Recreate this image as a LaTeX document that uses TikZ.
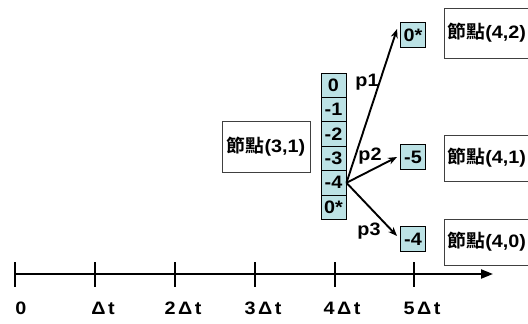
\documentclass[tikz,border=0pt]{standalone}
\usepackage{fontspec}
\setmainfont{Liberation Sans}[BoldFont={Liberation Sans Bold},FakeStretch=1.1]
\newfontfamily\cjkfont{Noto Sans CJK TC Black}[FakeStretch=1.05]
\usetikzlibrary{arrows.meta,calc}
\definecolor{cellfill}{RGB}{188,226,229}
\definecolor{boxline}{RGB}{64,64,64}
\tikzset{
  txt/.style={font=\fontsize{18}{20}\selectfont\bfseries, inner sep=0pt},
  cell/.style={draw=black, line width=0.9pt, fill=cellfill, minimum width=25pt, minimum height=24.4pt, inner sep=0pt, font=\fontsize{18}{20}\selectfont\bfseries},
  nbox/.style={draw=boxline, line width=0.9pt, fill=white, minimum height=50pt, inner ysep=0pt, font=\fontsize{18}{20}\selectfont\bfseries},
  arr/.style={line width=1.9pt, -{Stealth[length=9pt,width=7pt]}},
  axisline/.style={line width=2.2pt, -{Triangle[length=12pt,width=9pt]}},
  tickline/.style={line width=2.8pt},
}
\begin{document}
\begin{tikzpicture}[x=1pt,y=-1pt]
\useasboundingbox (0,0) rectangle (528,324);
% left node
\node[nbox, minimum width=88pt, minimum height=51pt, inner xsep=0pt] (n31) at (266,146.5) {{\cjkfont 節點}(3,1)};
% stack
\node[cell] (s0) at (333.5,85.2) {0};
\node[cell] (s1) at (333.5,109.6) {-1};
\node[cell] (s2) at (333.5,134.0) {-2};
\node[cell] (s3) at (333.5,158.4) {-3};
\node[cell] (s4) at (333.5,182.8) {-4};
\node[cell] (s5) at (333.5,207.2) {0*};
% targets
\node[cell] (t2) at (413,35) {0*};
\node[cell] (t1) at (413,157) {-5};
\node[cell] (t0) at (413,239) {-4};
% right nodes
\node[nbox, anchor=west, inner xsep=3pt, text width=94pt, align=left] (n42) at (444,33) {{\cjkfont 節點}(4,2)};
\node[nbox, anchor=west, inner xsep=3pt, text width=94pt, align=left, minimum height=46pt] (n41) at (444,158) {{\cjkfont 節點}(4,1)};
\node[nbox, anchor=west, inner xsep=3pt, text width=94pt, align=left, minimum height=46pt] (n40) at (444,242) {{\cjkfont 節點}(4,0)};
% arrows
\draw[arr] (s4.east) -- ([xshift=-3pt,yshift=6pt]t2.west);
\draw[arr] (s4.east) -- ([xshift=-3pt,yshift=0pt]t1.west);
\draw[arr] (s4.east) -- ([xshift=-3pt,yshift=3pt]t0.west);
\node[txt] (p1) at (367,82) {p1};
\node[txt] (p2) at (370,156) {p2};
\node[txt] (p3) at (369,231) {p3};
% axis
\coordinate (a0) at (15,274);
\coordinate (a1) at (493,274);
\draw[axisline] (a0) -- (a1);
\foreach \x in {15,95,175,255,335,414} \draw[tickline] (\x,262) -- (\x,287);
\node[txt] (l0) at (21,308) {0};
\node[txt] (l1) at (103,308) {Δ\hspace{2.5pt}t};
\node[txt] (l2) at (183,308) {2\hspace{2.5pt}Δ\hspace{2.5pt}t};
\node[txt] (l3) at (263,308) {3\hspace{2.5pt}Δ\hspace{2.5pt}t};
\node[txt] (l4) at (342,308) {4\hspace{2.5pt}Δ\hspace{2.5pt}t};
\node[txt] (l5) at (422,308) {5\hspace{2.5pt}Δ\hspace{2.5pt}t};
\end{tikzpicture}
\end{document}
